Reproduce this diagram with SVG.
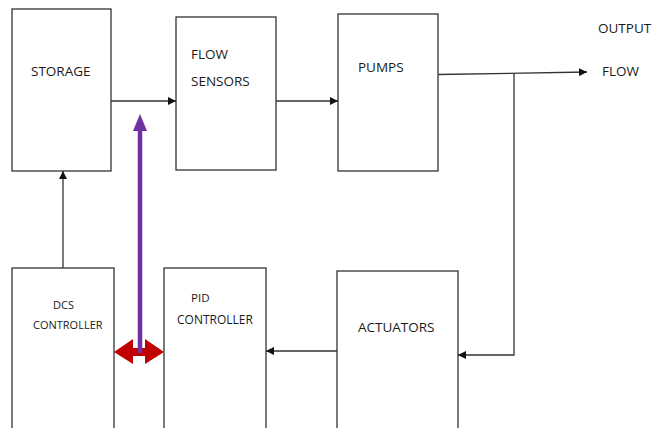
<svg xmlns="http://www.w3.org/2000/svg" width="654" height="428" viewBox="0 0 654 428">
<style>
.box{fill:#fff;stroke:#333;stroke-width:1.3}
.ln{fill:none;stroke:#333;stroke-width:1.3}
.t{font-family:"Open Sans","Liberation Sans",sans-serif;font-size:13.5px;fill:#1a1a1a}
.s{font-size:11px}
</style>
<defs>
<marker id="ah" viewBox="0 0 10 10" refX="10" refY="5" markerWidth="8" markerHeight="8" markerUnits="userSpaceOnUse" orient="auto">
<path d="M0,0 L10,5 L0,10 z" fill="#111"/>
</marker>
</defs>
<rect width="654" height="428" fill="#fff"/>
<g id="storage"><rect class="box" x="12" y="9" width="99" height="162"/><text class="t" x="31" y="76">STORAGE</text></g>
<g id="flow-sensors"><rect class="box" x="176" y="17" width="100" height="153"/><text class="t" x="191" y="59">FLOW</text><text class="t" x="191" y="86">SENSORS</text></g>
<g id="pumps"><rect class="box" x="338" y="14" width="100" height="157"/><text class="t" x="358" y="72">PUMPS</text></g>
<g id="output-flow"><text class="t" x="598" y="33">OUTPUT</text><text class="t" x="602" y="76">FLOW</text></g>
<g id="dcs"><rect class="box" x="12" y="268" width="102" height="180"/><text class="t s" x="53" y="309">DCS</text><text class="t s" x="33" y="329">CONTROLLER</text></g>
<g id="pid"><rect class="box" x="164" y="268" width="102" height="180"/><text class="t" x="191" y="302" style="font-size:11.5px">PID</text><text class="t" x="177" y="324" style="font-size:12px">CONTROLLER</text></g>
<g id="actuators"><rect class="box" x="337" y="271" width="121" height="180"/><text class="t" x="358" y="332">ACTUATORS</text></g>
<g id="connectors">
<line class="ln" x1="111" y1="101" x2="176" y2="101" marker-end="url(#ah)"/>
<line class="ln" x1="276" y1="101" x2="338" y2="101" marker-end="url(#ah)"/>
<line class="ln" x1="438" y1="74.5" x2="587" y2="72" marker-end="url(#ah)"/>
<polyline class="ln" points="514,73.5 514,355 458,355" marker-end="url(#ah)"/>
<line class="ln" x1="337" y1="351" x2="266" y2="351" marker-end="url(#ah)"/>
<line class="ln" x1="63" y1="268" x2="63" y2="171" marker-end="url(#ah)"/>
<polygon points="114,352 133,339 133,348 145,348 145,339 164,352 145,364 145,356 133,356 133,364" fill="#C00000"/>
<line x1="140" y1="353" x2="140" y2="128" stroke="#7030A0" stroke-width="4.5"/>
<polygon points="133,131 140,114 147,131" fill="#7030A0"/>
</g>
</svg>
